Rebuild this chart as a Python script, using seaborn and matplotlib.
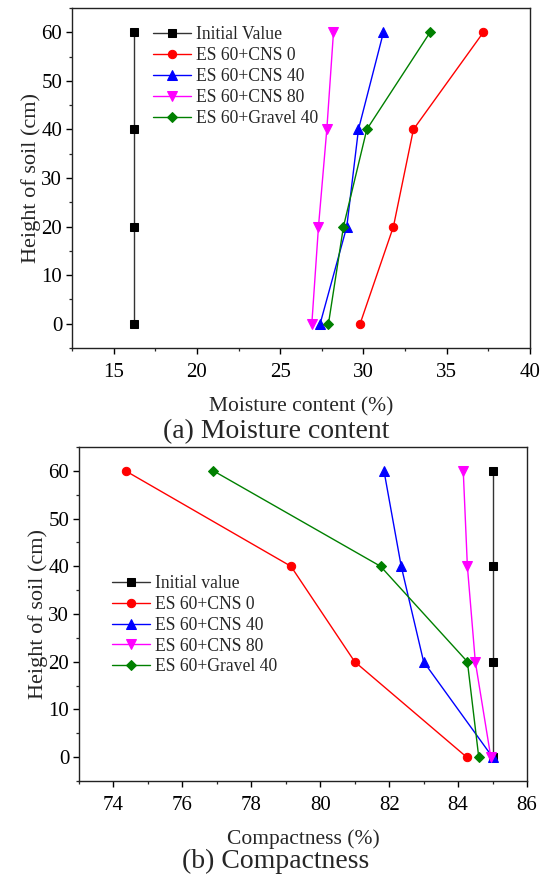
import numpy as np
import pandas as pd
import matplotlib
matplotlib.use("Agg")
import matplotlib.pyplot as plt
import seaborn as sns
from matplotlib.ticker import MultipleLocator

# ---------------- data ----------------
heights = [0, 20, 40, 60]

series_labels_a = ["Initial Value", "ES 60+CNS 0", "ES 60+CNS 40", "ES 60+CNS 80", "ES 60+Gravel 40"]
moist_initial = [16.2, 16.2, 16.2, 16.2]
moist_cns0 = [29.8, 31.8, 33.0, 37.2]
moist_cns40 = [27.4, 29.0, 29.7, 31.2]
moist_cns80 = [26.9, 27.3, 27.8, 28.2]
moist_gravel = [27.9, 28.8, 30.2, 34.0]

series_labels_b = ["Initial value", "ES 60+CNS 0", "ES 60+CNS 40", "ES 60+CNS 80", "ES 60+Gravel 40"]
comp_initial = [85.0, 85.0, 85.0, 85.0]
comp_cns0 = [84.25, 81.0, 79.15, 74.35]
comp_cns40 = [85.0, 83.0, 82.35, 81.85]
comp_cns80 = [84.95, 84.5, 84.27, 84.15]
comp_gravel = [84.6, 84.27, 81.75, 76.9]

colors = ["#333333", "#ff0000", "#0000ff", "#ff00ff", "#008000"]
markers = ["s", "o", "^", "v", "D"]
msizes = [5.5, 6, 6.5, 6.5, 5]

# ---------------- style ----------------
sns.set_style("ticks")
plt.rcParams["font.family"] = ["Liberation Serif", "DejaVu Serif"]
plt.rcParams["mathtext.fontset"] = "stix"

fig = plt.figure(figsize=(5.49, 8.77), dpi=100)
W, H = 549.0, 877.0

def add_axes(l, r, t, b):
    return fig.add_axes([l / W, 1 - b / H, (r - l) / W, (b - t) / H])

ax1 = add_axes(72, 530, 8, 348)
ax2 = add_axes(79, 527, 447, 781)

def draw(ax, data, labels):
    for vals, lab, c, m, ms in zip(data, labels, colors, markers, msizes):
        df = pd.DataFrame({"x": vals, "y": heights})
        mc = "black" if c == "#333333" else c
        sns.lineplot(data=df, x="x", y="y", ax=ax, sort=False, estimator=None,
                     color=c, marker=m, markersize=ms, markeredgecolor=mc,
                     markerfacecolor=mc, linewidth=1.0, label=lab)

draw(ax1, [moist_initial, moist_cns0, moist_cns40, moist_cns80, moist_gravel], series_labels_a)
draw(ax2, [comp_initial, comp_cns0, comp_cns40, comp_cns80, comp_gravel], series_labels_b)

ax1.set_xlim(12.5, 40)
ax1.set_ylim(-5, 65)
ax1.xaxis.set_major_locator(MultipleLocator(5))
ax1.xaxis.set_minor_locator(MultipleLocator(2.5))
ax2.set_xlim(73, 86)
ax2.set_ylim(-5, 65)
ax2.xaxis.set_major_locator(MultipleLocator(2))
ax2.xaxis.set_minor_locator(MultipleLocator(1))

for ax in (ax1, ax2):
    ax.yaxis.set_major_locator(MultipleLocator(10))
    ax.yaxis.set_minor_locator(MultipleLocator(5))
    ax.tick_params(which="major", direction="out", length=4, width=1, labelsize=15, pad=3, colors="black")
    ax.tick_params(axis="x", which="major", pad=7)
    ax.tick_params(which="minor", direction="out", length=2.5, width=0.9)
    for s in ax.spines.values():
        s.set_visible(True)
        s.set_linewidth(1.0)
        s.set_color("#222222")
    ax.set_ylabel("Height of soil (cm)", fontsize=16, labelpad=0)
    ax.grid(False)

ax1.set_xlabel("Moisture content (%)", fontsize=15.5, labelpad=11)
ax2.set_xlabel("Compactness (%)", fontsize=15.5, labelpad=10)

leg_kw = dict(frameon=False, fontsize=12.7, handlelength=2.15, handletextpad=0.3,
              labelspacing=0.22, borderpad=0, borderaxespad=0, loc="upper left")
ax1.legend(bbox_to_anchor=(0.176, 0.946), **leg_kw)
ax2.legend(bbox_to_anchor=(0.073, 0.617), **leg_kw)

fig.text(276 / W, 1 - 432 / H, "(a) Moisture content", ha="center", va="center", fontsize=20)
fig.text(276 / W, 1 - 861 / H, "(b) Compactness", ha="center", va="center", fontsize=20)

fig.savefig("out.png", dpi=100)
